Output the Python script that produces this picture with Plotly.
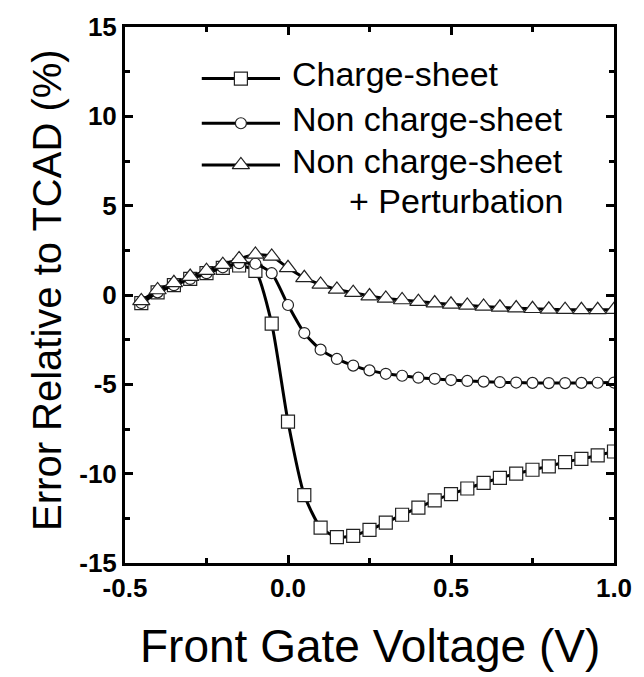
import plotly.graph_objects as go

# ---- data ----
gate_voltage = [-0.45, -0.40, -0.35, -0.30, -0.25, -0.20, -0.15, -0.10, -0.05, 0.00,
                0.05, 0.10, 0.15, 0.20, 0.25, 0.30, 0.35, 0.40, 0.45, 0.50,
                0.55, 0.60, 0.65, 0.70, 0.75, 0.80, 0.85, 0.90, 0.95, 1.00]

charge_sheet = [-0.45, 0.15, 0.55, 0.90, 1.22, 1.52, 1.65, 1.35, -1.60, -7.09,
                -11.20, -13.02, -13.55, -13.48, -13.15, -12.74, -12.30, -11.90, -11.50, -11.15,
                -10.83, -10.52, -10.24, -10.00, -9.78, -9.59, -9.35, -9.17, -8.98, -8.76]

non_charge_sheet = [-0.45, 0.15, 0.55, 0.90, 1.22, 1.55, 1.78, 1.75, 1.22, -0.56,
                    -2.13, -3.06, -3.58, -3.95, -4.22, -4.41, -4.52, -4.63, -4.69, -4.76,
                    -4.81, -4.85, -4.88, -4.90, -4.92, -4.93, -4.93, -4.92, -4.91, -4.90]

non_charge_sheet_pert = [-0.33, 0.28, 0.68, 1.03, 1.36, 1.70, 2.02, 2.27, 2.16, 1.52,
                         0.96, 0.59, 0.31, 0.13, -0.06, -0.19, -0.28, -0.37, -0.45, -0.52,
                         -0.58, -0.64, -0.69, -0.73, -0.77, -0.80, -0.82, -0.83, -0.83, -0.82]

series_names = ["Charge-sheet", "Non charge-sheet", "Non charge-sheet"]
series_symbols = ["square", "circle", "triangle-up"]
series_sizes = [13, 11, 15]
x_ticks = [-0.5, 0.0, 0.5, 1.0]
x_ticktext = ["-0.5", "0.0", "0.5", "1.0"]
y_ticks = [-15, -10, -5, 0, 5, 10, 15]
y_ticktext = ["-15", "-10", "-5", "0", "5", "10", "15"]

FONT = "Liberation Sans, Arial, sans-serif"

fig = go.Figure()
for yvals, name, sym, sz in zip([charge_sheet, non_charge_sheet, non_charge_sheet_pert],
                                series_names, series_symbols, series_sizes):
    fig.add_trace(go.Scatter(
        x=gate_voltage, y=yvals, mode="lines+markers", name=name,
        line=dict(color="black", width=3, shape="spline", smoothing=0.6),
        marker=dict(symbol=sym, size=sz, color="white", line=dict(color="#222", width=1.2)),
        showlegend=False,
    ))

# ---- custom legend (hidden overlay axes, 0..1 over plot area) ----
leg_rows = [0.9037, 0.8204, 0.7426]
leg_x0, leg_x1, leg_xm = 0.157, 0.317, 0.237
for row, sym, sz in zip(leg_rows, series_symbols, series_sizes):
    fig.add_trace(go.Scatter(
        x=[leg_x0, leg_x1], y=[row, row], mode="lines", xaxis="x2", yaxis="y2",
        line=dict(color="black", width=3), showlegend=False, hoverinfo="skip"))
    fig.add_trace(go.Scatter(
        x=[leg_xm], y=[row], mode="markers", xaxis="x2", yaxis="y2",
        marker=dict(symbol=sym, size=sz, color="white", line=dict(color="#222", width=1.2)),
        showlegend=False, hoverinfo="skip"))

legend_texts = [("Charge-sheet", 0.3367, leg_rows[0]),
                ("Non charge-sheet", 0.3367, leg_rows[1]),
                ("Non charge-sheet", 0.3367, leg_rows[2]),
                ("+ Perturbation", 0.4536, 0.6667)]
annotations = []
for t, ax, ay in legend_texts:
    annotations.append(dict(text=t, x=ax, y=ay + 0.008, xref="paper", yref="paper",
                            xanchor="left", yanchor="middle", showarrow=False,
                            font=dict(family=FONT, size=34, color="black")))

annotations.append(dict(text="Front Gate Voltage (V)", x=0.5, y=-0.155, xref="paper", yref="paper",
                        xanchor="center", yanchor="middle", showarrow=False,
                        font=dict(family=FONT, size=46, color="black")))
annotations.append(dict(text="Error Relative to TCAD (%)", x=-0.16, y=0.509, xref="paper", yref="paper",
                        xanchor="center", yanchor="middle", showarrow=False, textangle=-90,
                        font=dict(family=FONT, size=40, color="black")))

axis_common = dict(
    showline=True, linewidth=3, linecolor="black", mirror="ticks",
    ticks="inside", ticklen=8, tickwidth=3, tickcolor="black",
    showgrid=False, zeroline=False,
    tickfont=dict(family=FONT, size=26, color="black", weight="bold"),
)

fig.update_layout(
    width=644, height=677,
    margin=dict(l=125, r=23, t=23, b=114),
    plot_bgcolor="white", paper_bgcolor="white",
    xaxis=dict(range=[-0.5, 1.0], tickvals=x_ticks, ticktext=x_ticktext,
               minor=dict(ticks="inside", ticklen=5, tickwidth=3, tickcolor="black", dtick=0.25),
               **axis_common),
    yaxis=dict(range=[-15, 15], tickvals=y_ticks, ticktext=y_ticktext,
               minor=dict(ticks="inside", ticklen=5, tickwidth=3, tickcolor="black", dtick=2.5),
               **axis_common),
    xaxis2=dict(range=[0, 1], overlaying="x", visible=False, fixedrange=True),
    yaxis2=dict(range=[0, 1], overlaying="y", visible=False, fixedrange=True),
    annotations=annotations,
)

fig.write_html("out.html")
